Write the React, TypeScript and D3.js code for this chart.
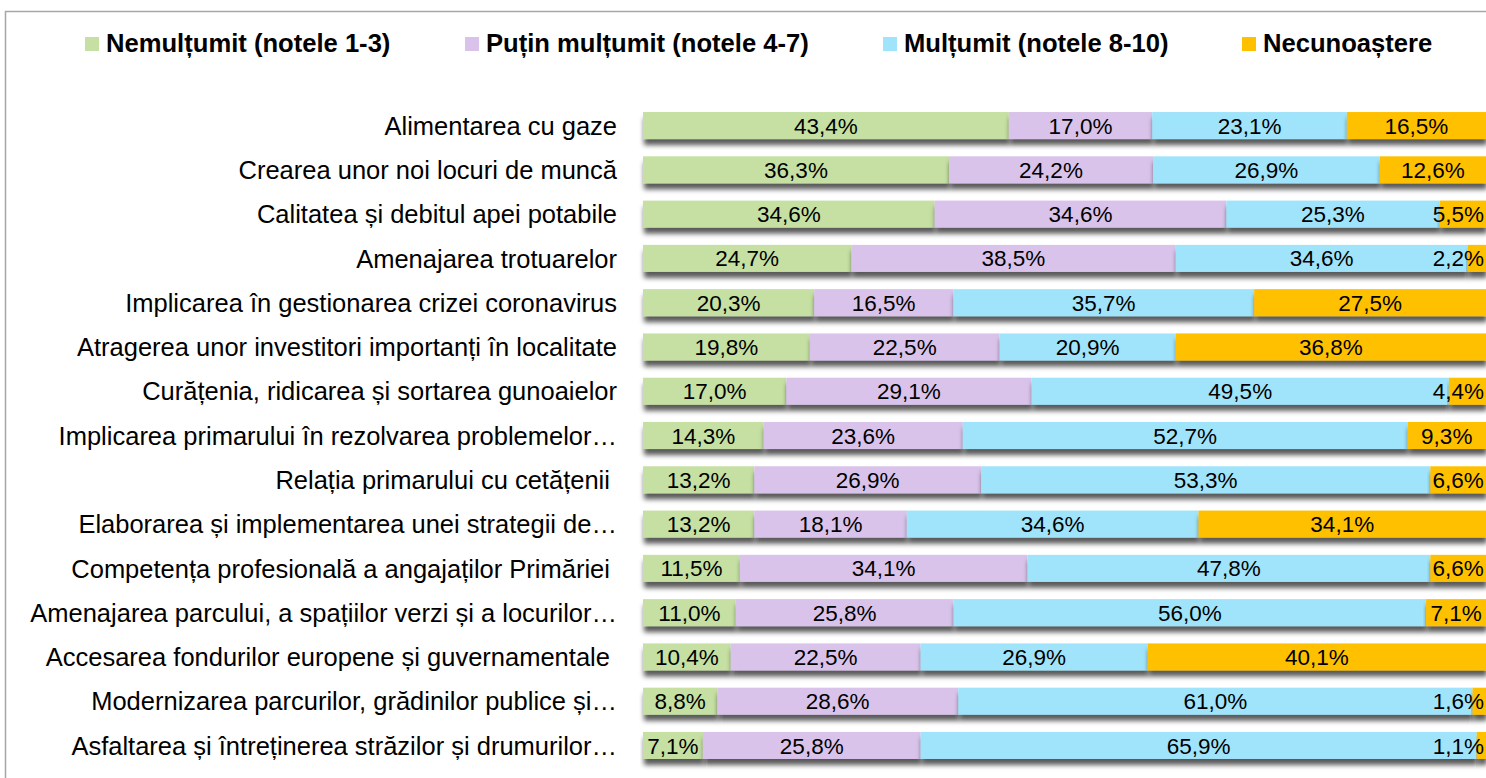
import React, { useEffect, useRef } from 'react';
import * as d3 from 'd3';

// survey data: share of answers (%) per item
const categories = [
  'Alimentarea cu gaze',
  'Crearea unor noi locuri de muncă',
  'Calitatea și debitul apei potabile',
  'Amenajarea trotuarelor',
  'Implicarea în gestionarea crizei coronavirus',
  'Atragerea unor investitori importanți în localitate',
  'Curățenia, ridicarea și sortarea gunoaielor',
  'Implicarea primarului în rezolvarea problemelor…',
  'Relația primarului cu cetățenii ',
  'Elaborarea și implementarea unei strategii de…',
  'Competența profesională a angajaților Primăriei ',
  'Amenajarea parcului, a spațiilor verzi și a locurilor…',
  'Accesarea fondurilor europene și guvernamentale ',
  'Modernizarea parcurilor, grădinilor publice și…',
  'Asfaltarea și întreținerea străzilor și drumurilor…',
];

const nemultumit = [43.4, 36.3, 34.6, 24.7, 20.3, 19.8, 17.0, 14.3, 13.2, 13.2, 11.5, 11.0, 10.4, 8.8, 7.1];
const putinMultumit = [17.0, 24.2, 34.6, 38.5, 16.5, 22.5, 29.1, 23.6, 26.9, 18.1, 34.1, 25.8, 22.5, 28.6, 25.8];
const multumit = [23.1, 26.9, 25.3, 34.6, 35.7, 20.9, 49.5, 52.7, 53.3, 34.6, 47.8, 56.0, 26.9, 61.0, 65.9];
const necunoastere = [16.5, 12.6, 5.5, 2.2, 27.5, 36.8, 4.4, 9.3, 6.6, 34.1, 6.6, 7.1, 40.1, 1.6, 1.1];

const seriesNames = [
  'Nemulțumit (notele 1-3)',
  'Puțin mulțumit (notele 4-7)',
  'Mulțumit (notele 8-10)',
  'Necunoaștere',
];
const seriesKeys = ['nemultumit', 'putin', 'multumit', 'necunoastere'];
const colors = ['#c5e0a2', '#d9c3ea', '#a0e4fb', '#ffc000'];

const W = 1486;
const H = 778;
const FONT = 'Liberation Sans, Arial, sans-serif';

export default function App() {
  const svgRef = useRef<SVGSVGElement>(null);

  useEffect(() => {
    const svg = d3.select(svgRef.current);
    svg.selectAll('*').remove();

    const rows = categories.map((c, i) => ({
      cat: c,
      nemultumit: nemultumit[i],
      putin: putinMultumit[i],
      multumit: multumit[i],
      necunoastere: necunoastere[i],
    }));

    const stack = d3.stack<any>().keys(seriesKeys).offset(d3.stackOffsetExpand);
    const layers = stack(rows);

    const left = 643;
    const right = 1486;
    const x = d3.scaleLinear().domain([0, 1]).range([left, right]);
    const y = d3.scaleBand()
      .domain(categories)
      .range([103.4, 767.6])
      .paddingInner(0.39)
      .paddingOuter(0.195);

    const defs = svg.append('defs');
    const f = defs.append('filter').attr('id', 'shadow')
      .attr('x', '-5%').attr('y', '-30%').attr('width', '110%').attr('height', '190%');
    f.append('feDropShadow')
      .attr('dx', 1).attr('dy', 6).attr('stdDeviation', 2.5)
      .attr('flood-color', '#000').attr('flood-opacity', 0.65);

    // frame
    svg.append('rect')
      .attr('x', 5.5).attr('y', 11.5)
      .attr('width', W + 20).attr('height', H + 20)
      .attr('fill', 'none')
      .attr('stroke', '#a6a6a6')
      .attr('stroke-width', 1.5);

    // legend
    const legendX = [85, 465, 883, 1242];
    const lg = svg.append('g');
    seriesNames.forEach((name, i) => {
      lg.append('rect')
        .attr('x', legendX[i]).attr('y', 37)
        .attr('width', 14).attr('height', 14)
        .attr('fill', colors[i]);
      lg.append('text')
        .attr('x', legendX[i] + 21).attr('y', 52)
        .attr('font-family', FONT)
        .attr('font-weight', 'bold')
        .attr('font-size', 25.6)
        .attr('fill', '#000')
        .text(name);
    });

    // bars
    const g = svg.append('g');
    layers.forEach((layer, li) => {
      g.append('g')
        .selectAll('rect')
        .data(layer)
        .join('rect')
        .attr('x', (d: any) => x(d[0]))
        .attr('y', (d: any) => y(d.data.cat)!)
        .attr('width', (d: any) => x(d[1]) - x(d[0]))
        .attr('height', y.bandwidth())
        .attr('fill', colors[li])
        .attr('filter', 'url(#shadow)');
    });

    // value labels
    const fmt = (v: number) => v.toFixed(1).replace('.', ',') + '%';
    layers.forEach((layer) => {
      layer.forEach((d: any) => {
        const v = d.data[layer.key];
        const t = g.append('text')
          .attr('y', y(d.data.cat)! + y.bandwidth() / 2)
          .attr('dy', '0.36em')
          .attr('text-anchor', 'middle')
          .attr('font-family', FONT)
          .attr('font-size', 22.5)
          .attr('fill', '#000')
          .text(fmt(v));
        const cx = (x(d[0]) + x(d[1])) / 2;
        const tw = (t.node() as SVGTextElement).getComputedTextLength();
        t.attr('x', Math.min(cx, right - 2 - tw / 2));
      });
    });

    // category labels
    svg.append('g')
      .selectAll('text')
      .data(categories)
      .join('text')
      .attr('x', 617)
      .attr('y', (d) => y(d)! + y.bandwidth() / 2)
      .attr('dy', '0.36em')
      .attr('text-anchor', 'end')
      .attr('font-family', FONT)
      .attr('font-size', 25.5)
      .attr('fill', '#000')
      .style('white-space', 'pre')
      .text((d) => d);
  }, []);

  return (
    <svg
      ref={svgRef}
      width={W}
      height={H}
      style={{ position: 'absolute', left: 0, top: 0, background: '#fff' }}
    />
  );
}
